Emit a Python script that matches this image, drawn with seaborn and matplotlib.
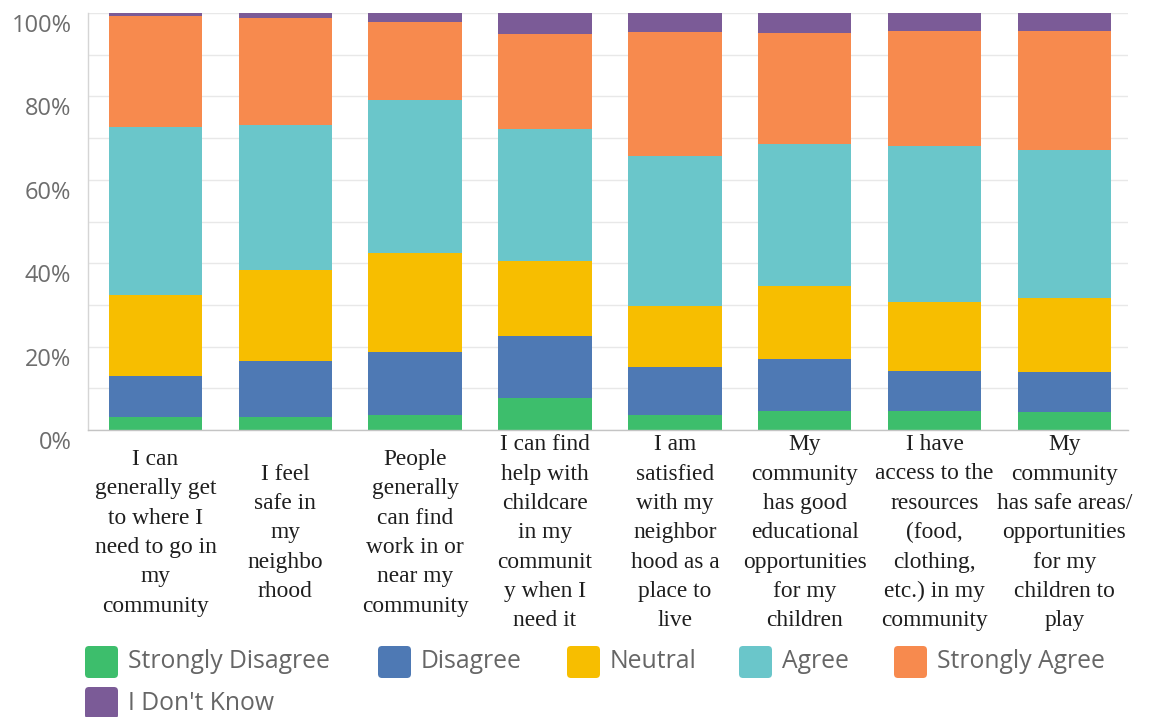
import matplotlib
matplotlib.use("Agg")
import matplotlib.pyplot as plt
import seaborn as sns
import pandas as pd
from matplotlib.patches import FancyBboxPatch
from matplotlib.transforms import IdentityTransform, ScaledTranslation
from matplotlib.ticker import MultipleLocator, FuncFormatter

# ---------------- data ----------------
questions = [
    "I can\ngenerally get\nto where I\nneed to go in\nmy\ncommunity",
    "I feel\nsafe in\nmy\nneighbo\nrhood",
    "People\ngenerally\ncan find\nwork in or\nnear my\ncommunity",
    "I can find\nhelp with\nchildcare\nin my\ncommunit\ny when I\nneed it",
    "I am\nsatisfied\nwith my\nneighbor\nhood as a\nplace to\nlive",
    "My\ncommunity\nhas good\neducational\nopportunities\nfor my\nchildren",
    "I have\naccess to the\nresources\n(food,\nclothing,\netc.) in my\ncommunity",
    "My\ncommunity\nhas safe areas/\nopportunities\nfor my\nchildren to\nplay",
]
levels = ["Strongly Disagree", "Disagree", "Neutral", "Agree",
          "Strongly Agree", "I Don't Know"]
strongly_disagree = [3.2, 3.2, 3.6, 7.6, 3.6, 4.6, 4.6, 4.2]
disagree          = [9.8, 13.4, 15.0, 15.0, 11.4, 12.4, 9.5, 9.8]
neutral           = [19.4, 21.8, 23.8, 17.9, 14.7, 17.6, 16.7, 17.7]
agree             = [40.3, 34.7, 36.7, 31.8, 36.0, 34.0, 37.4, 35.4]
strongly_agree    = [26.7, 25.6, 18.8, 22.6, 29.7, 26.7, 27.6, 28.7]
dont_know         = [0.6, 1.3, 2.1, 5.1, 4.6, 4.7, 4.2, 4.2]
y_ticks = [0, 20, 40, 60, 80, 100]

colors = ["#3DBE6C", "#4E79B4", "#F7BE00", "#6AC6CA", "#F78A4E", "#7B5B97"]

series = [strongly_disagree, disagree, neutral, agree, strongly_agree, dont_know]
rows = []
for qi, q in enumerate(questions):
    cum = 0.0
    for lvl, vals in zip(levels, series):
        cum += vals[qi]
        rows.append({"question": q, "level": lvl, "cum": cum})
df = pd.DataFrame(rows)

# ---------------- figure ----------------
W, H = 1163, 717
fig = plt.figure(figsize=(W / 100, H / 100), dpi=100)
ax = fig.add_axes([88 / W, 1 - 430 / H, (1128 - 88) / W, (430 - 13) / H])

sans = ["Open Sans", "DejaVu Sans"]
serif = ["Liberation Serif", "DejaVu Serif"]

# overlay cumulative bars, top category first
for lvl, col in reversed(list(zip(levels, colors))):
    sub = df[df["level"] == lvl]
    sns.barplot(data=sub, x="question", y="cum", order=questions, color=col,
                saturation=1, width=0.72, linewidth=0, ax=ax, errorbar=None)

ax.set_xlim(-0.52, 7.49)
ax.set_ylim(0, 100)
ax.set_xlabel("")
ax.set_ylabel("")
ax.set_yticks(y_ticks)
ax.yaxis.set_minor_locator(MultipleLocator(10))
ax.yaxis.set_major_formatter(FuncFormatter(lambda v, p: f"{v:.0f}%"))
ax.grid(axis="y", which="both", color="#e8e8e8", linewidth=1)
ax.grid(axis="x", visible=False)
ax.set_axisbelow(True)
ax.tick_params(axis="both", which="both", length=0)
ax.tick_params(axis="y", pad=12)
ax.tick_params(axis="x", pad=74)

for s in ["top", "right"]:
    ax.spines[s].set_visible(False)
ax.spines["left"].set_color("#d5d5d5")
ax.spines["bottom"].set_color("#c4c4c4")
ax.spines["left"].set_linewidth(1)
ax.spines["bottom"].set_linewidth(1)

for lab in ax.get_yticklabels():
    lab.set_fontfamily(sans)
    lab.set_fontsize(17)
    lab.set_color("#6d6d6d")
    lab.set_va("center")
    lab.set_transform(lab.get_transform() +
                      ScaledTranslation(0, -13 / 100, fig.dpi_scale_trans))

for lab in ax.get_xticklabels():
    lab.set_fontfamily(serif)
    lab.set_fontsize(16.8)
    lab.set_color("#1e1e1e")
    lab.set_va("center")
    lab.set_ha("center")
    lab.set_linespacing(1.52)

# ---------------- legend (manual, pixel placement) ----------------
legend_items = [
    (85, 662, "Strongly Disagree"),
    (378, 662, "Disagree"),
    (567, 662, "Neutral"),
    (739, 662, "Agree"),
    (894, 662, "Strongly Agree"),
    (85, 703, "I Don't Know"),
]
for (x0, yc, text), col in zip(legend_items, colors):
    sq = FancyBboxPatch((x0, H - yc - 16), 33, 32,
                        boxstyle="round,pad=0,rounding_size=4",
                        transform=IdentityTransform(), facecolor=col,
                        edgecolor="none")
    fig.patches.append(sq)
    fig.text((x0 + 43) / W, 1 - yc / H, text, fontfamily=sans, fontsize=17.8,
             color="#666666", va="center", ha="left")

fig.savefig("out.png", dpi=100)
